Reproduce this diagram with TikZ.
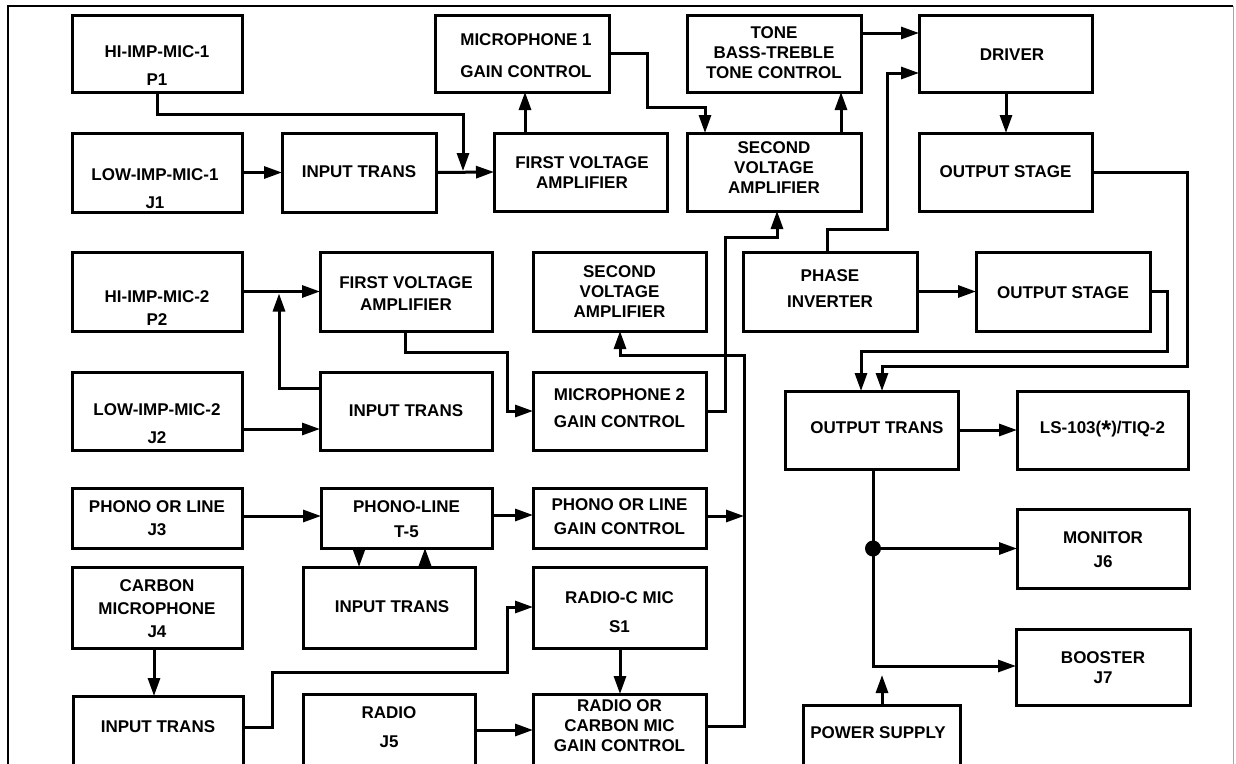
\documentclass[tikz,border=0pt]{standalone}
\usepackage{fontspec}
\setmainfont{Liberation Sans}
\usetikzlibrary{arrows.meta}
\newcommand\blk[5]{\node[box, minimum width={#4-#2}, minimum height={#5-#3}] (#1) at ({(#2+#4)/2},{(#3+#5)/2}) {};}
\begin{document}
\begin{tikzpicture}[x=1pt,y=-1pt,
  box/.style={draw, line width=3pt, inner sep=0pt, outer sep=0pt, rectangle},
  txt/.style={font=\fontsize{17}{20}\selectfont\bfseries, align=center, inner sep=0pt},
  conn/.style={line width=3pt, -{Triangle[length=18pt,width=12pt]}},
  frame/.style={line width=2.4pt}
]
\useasboundingbox (0,0) rectangle (1236,763);
\begin{scope}
\clip (0,0) rectangle (1236,763);
% frame
\draw[frame] (8,800) -- (8,6) -- (1233,6);
\draw[line width=1pt, black!35] (1233,6) -- (1233,800);
% boxes
\blk{hi1}{72}{15}{242}{92}
\blk{low1}{72}{133}{242}{212}
\blk{it1}{282}{133}{436}{212}
\blk{mic1gc}{435}{15}{609}{92}
\blk{fva1}{494}{133}{667}{211}
\blk{tone}{687}{15}{861}{92}
\blk{sva1}{687}{133}{861}{211}
\blk{driver}{919}{15}{1092}{92}
\blk{os1}{919}{133}{1092}{211}
\blk{hi2}{72}{252}{242}{331}
\blk{fva2}{320}{252}{492}{331}
\blk{sva2}{533}{252}{706}{331}
\blk{pi}{743}{252}{917}{331}
\blk{os2}{976}{252}{1150}{331}
\blk{low2}{72}{372}{242}{450}
\blk{it2}{320}{372}{492}{450}
\blk{mic2gc}{533}{372}{706}{450}
\blk{ot}{785}{391}{958}{469}
\blk{ls}{1017}{391}{1188}{469}
\blk{j3}{72}{488}{242}{548}
\blk{t5}{321}{488}{492}{548}
\blk{pgc}{533}{488}{706}{548}
\blk{j4}{72}{567}{242}{648}
\blk{it3}{303}{567}{475}{648}
\blk{rcmic}{533}{567}{706}{648}
\blk{mon}{1017}{509}{1189}{588}
\blk{boost}{1016}{629}{1190}{705}
\blk{it4}{73}{696}{243}{790}
\blk{radio}{303}{694}{475}{790}
\blk{rcgc}{533}{694}{706}{790}
\blk{ps}{803}{705}{960}{790}
% texts
\node[txt] (hi1-t) at (157,66) {HI-IMP-MIC-1\\[8pt]P1};
\node[txt] (low1-t) at (155,189) {LOW-IMP-MIC-1\\[8pt]J1};
\node[txt] (it1-t) at (359,172) {INPUT TRANS};
\node[txt] (mic1gc-t) at (526,56) {MICROPHONE 1\\[12pt]GAIN CONTROL};
\node[txt] (fva1-t) at (582,172.5) {FIRST VOLTAGE\\AMPLIFIER};
\node[txt] (tone-t) at (774,53) {TONE\\BASS-TREBLE\\TONE CONTROL};
\node[txt] (sva1-t) at (774,167.5) {SECOND\\VOLTAGE\\AMPLIFIER};
\node[txt] (driver-t) at (1012,55) {DRIVER};
\node[txt] (os1-t) at (1005.5,172) {OUTPUT STAGE};
\node[txt] (hi2-t) at (157,308.5) {HI-IMP-MIC-2\\[3pt]P2};
\node[txt] (fva2-t) at (406,294) {FIRST VOLTAGE\\[2pt]AMPLIFIER};
\node[txt] (sva2-t) at (619.5,292) {SECOND\\VOLTAGE\\AMPLIFIER};
\node[txt] (pi-t) at (830,289) {PHASE\\[6pt]INVERTER};
\node[txt] (os2-t) at (1063,293) {OUTPUT STAGE};
\node[txt] (low2-t) at (157,424) {LOW-IMP-MIC-2\\[8pt]J2};
\node[txt] (it2-t) at (406,411) {INPUT TRANS};
\node[txt] (mic2gc-t) at (619.5,408.5) {MICROPHONE 2\\[7pt]GAIN CONTROL};
\node[txt] (ot-t) at (877,428) {OUTPUT TRANS};
\node[txt] (ls-t) at (1102.5,430) {LS-103(\raisebox{-0.6ex}{\scalebox{1.5}{*}})/TIQ-2};
\node[txt] (j3-t) at (157,518.5) {PHONO OR LINE\\[3pt]J3};
\node[txt] (t5-t) at (406.5,519.5) {PHONO-LINE\\[5pt]T-5};
\node[txt] (pgc-t) at (619.5,517) {PHONO OR LINE\\[4pt]GAIN CONTROL};
\node[txt] (j4-t) at (157,609) {CARBON\\[3pt]MICROPHONE\\[3pt]J4};
\node[txt] (it4-t) at (158,727) {INPUT TRANS};
\node[txt] (it3-t) at (392,607) {INPUT TRANS};
\node[txt] (rcmic-t) at (619.5,612.5) {RADIO-C MIC\\[9pt]S1};
\node[txt] (mon-t) at (1103,550) {MONITOR\\[4pt]J6};
\node[txt] (boost-t) at (1103,668) {BOOSTER\\J7};
\node[txt] (radio-t) at (389,727.5) {RADIO\\[9pt]J5};
\node[txt] (rcgc-t) at (619.5,726) {RADIO OR\\CARBON MIC\\GAIN CONTROL};
\node[txt] (ps-t) at (878,733) {POWER SUPPLY};
% junction dot
\node[circle, fill, minimum size=16pt, inner sep=0pt] (dot) at (873,548.5) {};
% connectors
\draw[conn] (hi1.south) |- (463,114) -- (463,171);
\draw[conn] (low1.east) -- (it1.west);
\draw[conn] (it1.east) -- (fva1.west);
\draw[conn] (fva1.north -| 525,0) -- (mic1gc.south -| 525,0);
\draw[conn] (mic1gc.east) -| (647,107) -| (sva1.north -| 705,0);
\draw[conn] (sva1.north -| 841,0) -- (tone.south -| 841,0);
\draw[conn] (tone.east |- 0,33) -- (driver.west |- 0,33);
\draw[conn] (pi.north -| 827,0) |- (887,229) |- (driver.west |- 0,73);
\draw[conn] (driver.south -| 1006,0) -- (os1.north -| 1006,0);
\draw[conn] (os1.east) -| (1187,366) -| (ot.north -| 882,0);
\draw[conn] (os2.east) -| (1167,351) -| (ot.north -| 861,0);
\draw[conn] (pi.east) -- (os2.west);
\draw[conn] (mic2gc.east) -| (725,237) -| (sva1.south -| 777,0);
\draw[conn] (hi2.east) -- (fva2.west);
\draw[conn] (it2.west |- 0,388) -| (279,293.5);
\draw[conn] (low2.east |- 0,429) -- (it2.west |- 0,429);
\draw[conn] (fva2.south -| 405,0) |- (507,352) |- (mic2gc.west);
\draw[conn] (rcgc.east |- 0,726) -| (744,355) -| (sva2.south -| 620,0);
\draw[conn] (pgc.east |- 0,516) -- (744,516);
\draw[conn] (j3.east |- 0,516) -- (t5.west |- 0,516);
\draw[conn] (t5.east |- 0,515) -- (pgc.west |- 0,515);
\draw[conn] (t5.south -| 359,0) -- (it3.north -| 359,0);
\draw[conn] (it3.north -| 425,0) -- (t5.south -| 425,0);
\draw[conn] (j4.south -| 154,0) -- (it4.north -| 154,0);
\draw[conn] (it4.east |- 0,727) -| (272,672) -| (507,607) -- (rcmic.west |- 0,607);
\draw[conn] (radio.east |- 0,730) -- (rcgc.west |- 0,730);
\draw[conn] (rcmic.south -| 620,0) -- (rcgc.north -| 620,0);
\draw[conn] (ot.south -| 873,0) |- (boost.west |- 0,666);
\draw[conn] (dot) -- (mon.west);
\draw[conn] (ot.east) -- (ls.west);
\draw[conn] (ps.north -| 882,0) -- (882,675);
\end{scope}
\end{tikzpicture}
\end{document}
